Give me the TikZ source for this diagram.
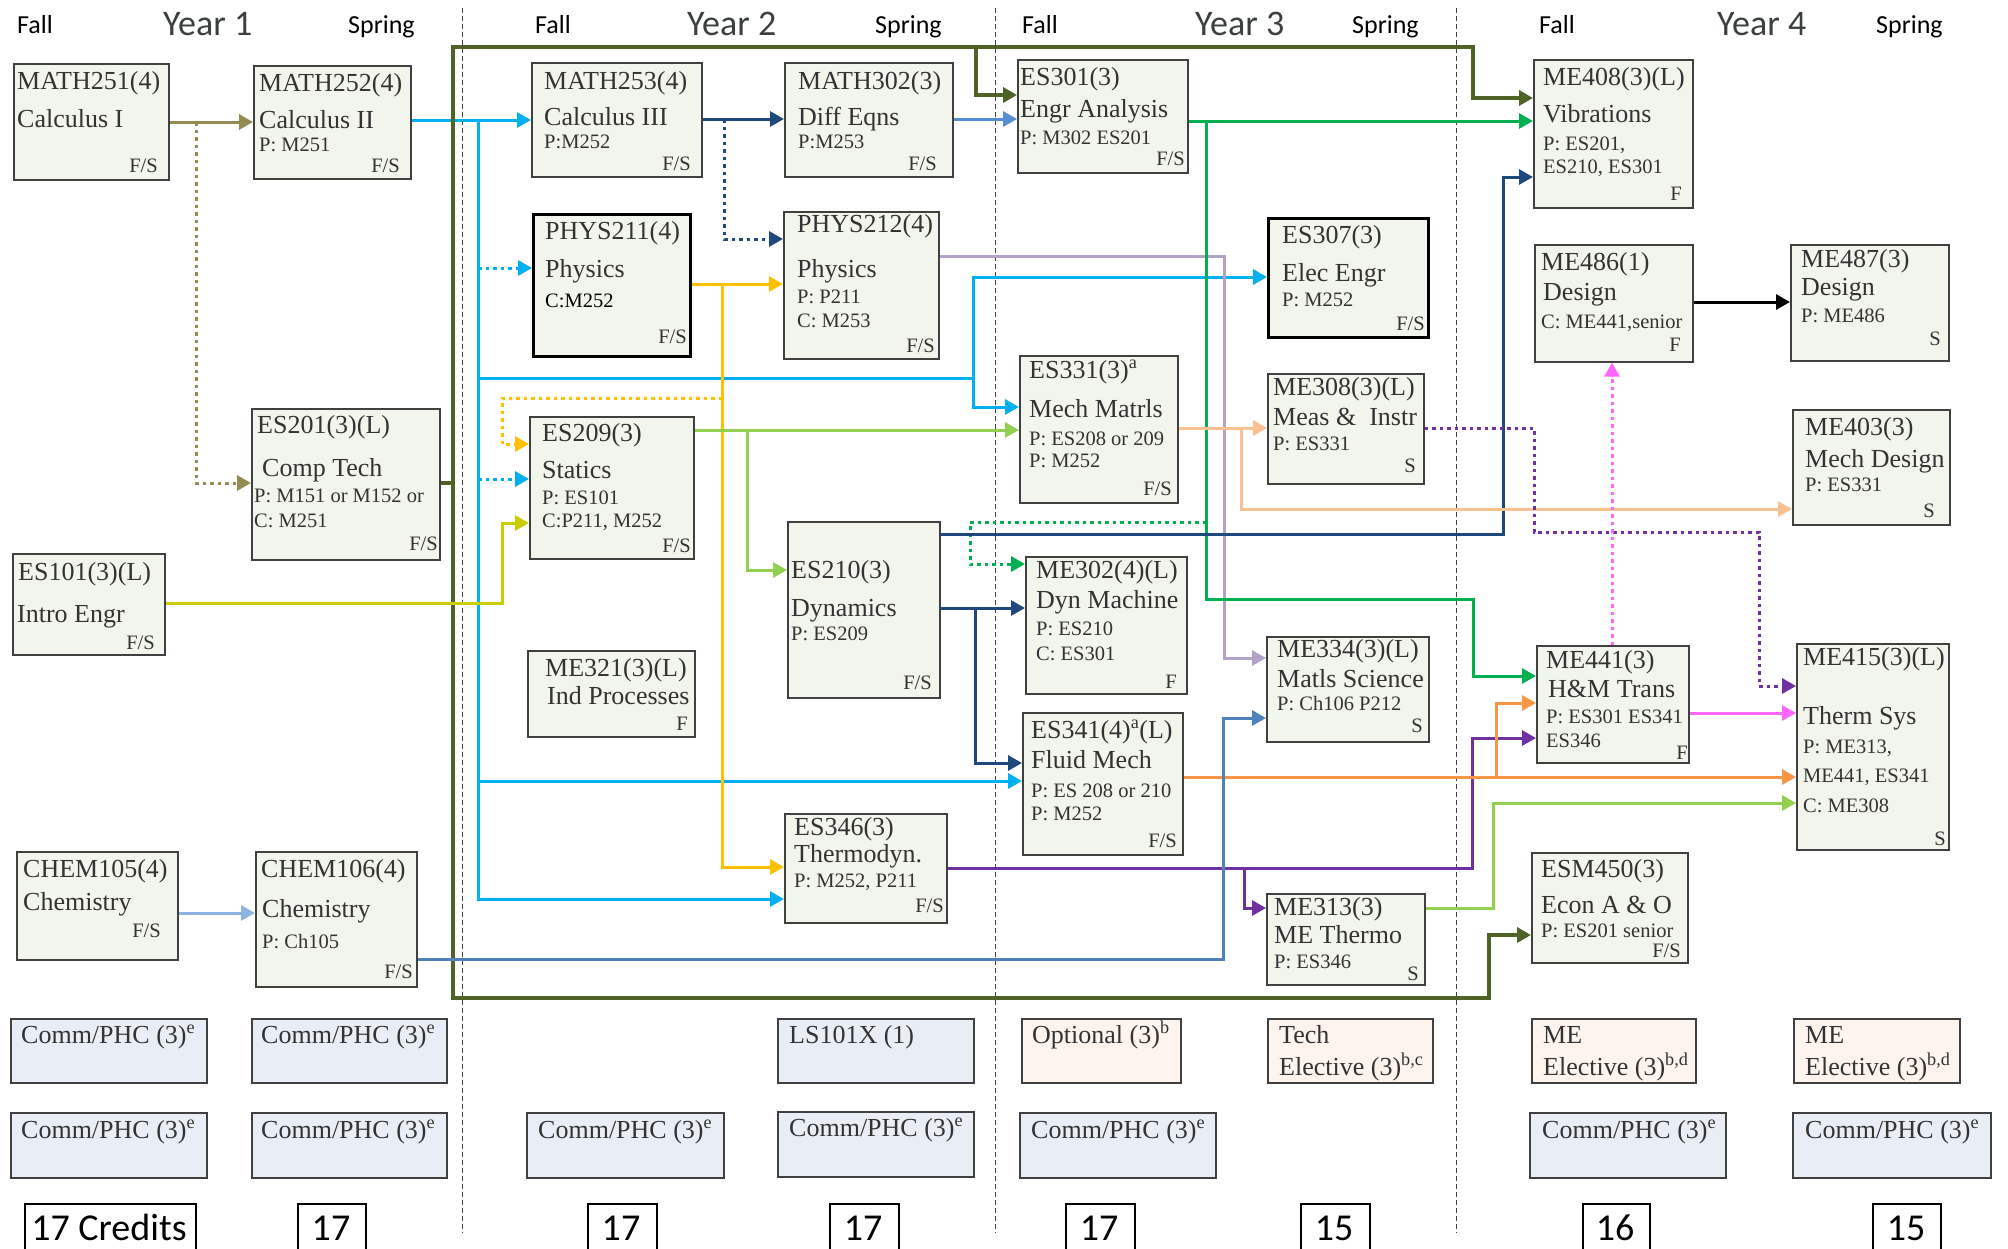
\documentclass[tikz,border=0pt]{standalone}
\usepackage{fontspec}
\setmainfont{Liberation Serif}
\newfontfamily\hdrfont{Carlito}
\usetikzlibrary{arrows.meta}
\definecolor{boxfill}{HTML}{F2F5EC}
\definecolor{boxline}{HTML}{404040}
\definecolor{bluefill}{HTML}{E9EEF6}
\definecolor{pinkfill}{HTML}{FDF4EE}
\definecolor{txtc}{HTML}{333333}
\definecolor{yearc}{HTML}{3A4040}
\definecolor{khaki}{HTML}{948A54}
\definecolor{cyanc}{HTML}{00B0F0}
\definecolor{dblue}{HTML}{1F497D}
\definecolor{mblue}{HTML}{558ED5}
\definecolor{goldc}{HTML}{FFC000}
\definecolor{lav}{HTML}{B3A2C7}
\definecolor{olv}{HTML}{4F6228}
\definecolor{grn}{HTML}{00B050}
\definecolor{lgrn}{HTML}{92D050}
\definecolor{pch}{HTML}{FAC090}
\definecolor{purp}{HTML}{7030A0}
\definecolor{orng}{HTML}{F79646}
\definecolor{stl}{HTML}{4F81BD}
\definecolor{mag}{HTML}{FF66FF}
\definecolor{ylw}{HTML}{CCCC00}
\definecolor{lblu}{HTML}{8DB4E2}
\newcommand\fbig{\fontsize{26}{30}\selectfont}
\newcommand\fsml{\fontsize{20.5}{24}\selectfont}
\tikzset{
  box/.style={draw=boxline, fill=boxfill, line width=1.6pt, inner sep=0, anchor=north west},
  thickbox/.style={draw=black, line width=2.8pt},
  bbox/.style={box, fill=bluefill},
  pbox/.style={box, fill=pinkfill},
  cbox/.style={box, fill=white, draw=black, line width=1.6pt},
  tb/.style={inner sep=0, text=txtc, font=\fbig},
  ts/.style={inner sep=0, text=txtc, font=\fsml},
  hdr/.style={inner sep=0, text=black, font=\hdrfont\fontsize{26}{30}\selectfont, anchor=base west},
  yr/.style={inner sep=0, text=yearc, font=\hdrfont\fontsize{36}{40}\selectfont, anchor=base west},
  cred/.style={inner sep=0, text=black, font=\hdrfont\fontsize{38}{42}\selectfont, anchor=base},
  arr/.style={line width=3pt, -{Triangle[length=14pt,width=15pt]}},
  ln/.style={line width=3pt},
  dot/.style={dash pattern=on 3.5pt off 4pt},
  olvs/.style={olv, line width=3.6pt},
  sep/.style={draw=black!75, line width=1pt, dash pattern=on 5pt off 3pt}
}
% box: [style]{name}{x1}{y1}{x2}{y2}
\newcommand\bx[6][box]{\pgfmathsetmacro\bw{#5-#3}\pgfmathsetmacro\bh{#6-#4}%
  \node[box,#1,minimum width=\bw pt,minimum height=\bh pt] (#2) at (#3,#4) {};}
% text line left: [style]{name}{x}{y}{text}
\newcommand\tL[5][tb]{\node[#1,anchor=base west] (#2) at (#3,#4) {#5};}
\newcommand\tR[5][ts]{\node[#1,anchor=base east] (#2) at (#3,#4) {#5};}
\begin{document}
\begin{tikzpicture}[x=1pt,y=-1pt]
\useasboundingbox (0,0) rectangle (2008,1248);
% separators
\draw[sep] (462,8) -- (462,1233);
\draw[sep] (995,8) -- (995,1233);
\draw[sep] (1456,8) -- (1456,1233);
% headers
\node[hdr] (f1) at (17,33) {Fall};
\node[yr] (y1) at (163,35) {Year 1};
\node[hdr] (s1) at (348,33) {Spring};
\node[hdr] (f2) at (535,33) {Fall};
\node[yr] (y2) at (687,35) {Year 2};
\node[hdr] (s2) at (875,33) {Spring};
\node[hdr] (f3) at (1022,33) {Fall};
\node[yr] (y3) at (1195,35) {Year 3};
\node[hdr] (s3) at (1352,33) {Spring};
\node[hdr] (f4) at (1539,33) {Fall};
\node[yr] (y4) at (1717,35) {Year 4};
\node[hdr] (s4) at (1876,33) {Spring};

% ---------- boxes (placed first as coordinates, drawn later on top) ----------
\begin{scope}[on background layer/.style={}]
\end{scope}

% connectors drawn before boxes so boxes sit on top
% invisible placeholder boxes for names
\begin{scope}[box/.append style={draw=none, fill=none}]
\bx{m251}{13}{63}{168}{179}
\bx{m252}{253}{65}{410}{178}
\bx{es201}{251}{408}{439}{559}
\bx{es101}{12}{553}{164}{654}
\bx{ch105}{16}{851}{177}{959}
\bx{ch106}{255}{851}{416}{986}
\bx{m253}{531}{62}{701}{176}
\bx{m302}{784}{62}{952}{176}
\bx{p211}{532}{213}{689}{355}
\bx{p212}{783}{211}{938}{358}
\bx{es209}{529}{416}{693}{558}
\bx{me321}{527}{650}{694}{736}
\bx{es210}{787}{521}{939}{697}
\bx{es346}{784}{813}{946}{922}
\bx{es301}{1017}{59}{1187}{172}
\bx{es307}{1267}{217}{1427}{336}
\bx{es331}{1019}{355}{1177}{502}
\bx{me308}{1267}{373}{1423}{483}
\bx{me302}{1025}{556}{1186}{693}
\bx{es341}{1022}{712}{1182}{854}
\bx{me334}{1266}{636}{1428}{741}
\bx{me313}{1266}{893}{1424}{984}
\bx{me408}{1533}{59}{1692}{207}
\bx{me486}{1534}{244}{1692}{361}
\bx{me487}{1790}{244}{1948}{360}
\bx{me403}{1792}{409}{1949}{524}
\bx{me441}{1536}{645}{1688}{762}
\bx{me415}{1796}{643}{1948}{849}
\bx{esm450}{1531}{852}{1687}{962}
\end{scope}

% ---------- connectors ----------
\coordinate (jk) at (196,122);
\draw[arr,khaki] (m251.east|-0,122) -- (m252.west|-0,122);
\draw[arr,khaki,dot] (jk) |- (es201.west|-0,483);

\coordinate (jc) at (478,120);
\coordinate (jc2) at (973,378);
\draw[arr,cyanc] (m252.east|-0,120) -- (m253.west|-0,120);
\draw[arr,cyanc] (jc) |- (es346.west|-0,899);
\draw[arr,cyanc,dot] (jc|-0,268) -- (p211.west|-0,268);
\draw[arr,cyanc,dot] (jc|-0,479) -- (es209.west|-0,479);
\draw[arr,cyanc] (jc|-0,781) -- (es341.west|-0,781);
\draw[arr,cyanc] (jc|-0,378) -| (973,277) -- (es307.west|-0,277);
\draw[arr,cyanc] (jc2) |- (es331.west|-0,407);

\coordinate (jd) at (724,119);
\draw[arr,dblue] (m253.east|-0,119) -- (m302.west|-0,119);
\draw[arr,dblue,dot] (jd) |- (p212.west|-0,239);
\draw[arr,mblue] (m302.east|-0,119) -- (es301.west|-0,119);

\coordinate (jg) at (722,284);
\coordinate (jg2) at (722,398);
\draw[arr,goldc] (p211.east|-0,284) -- (p212.west|-0,284);
\draw[arr,goldc] (jg) |- (es346.west|-0,867);
\draw[arr,goldc,dot] (jg2) -| (502,444) -- (es209.west|-0,444);

\draw[arr,lav] (p212.east|-0,256) -| (1224,658) -- (me334.west|-0,658);

\coordinate (jo) at (453,483);
\coordinate (jo2) at (976,47);
\draw[olvs] (es201.east|-0,483) -- (jo);
\draw[arr,olvs] (jo) -- (453,47) -| (976,95) -- (es301.west|-0,95);
\draw[arr,olvs] (jo2) -| (1473,98) -- (me408.west|-0,98);
\draw[arr,olvs] (jo) |- (1489,998) -- (1489,935) -- (esm450.west|-0,935);

\coordinate (jgr) at (1206,121);
\coordinate (jgr2) at (1206,522);
\draw[arr,grn] (es301.east|-0,121) -- (me408.west|-0,121);
\draw[arr,grn] (jgr) |- (1473,599) |- (me441.west|-0,676);
\draw[arr,grn,dot] (jgr2) -| (970,564) -- (me302.west|-0,564);

\coordinate (jl) at (747,430);
\draw[arr,lgrn] (es209.east|-0,430) -- (es331.west|-0,430);
\draw[arr,lgrn] (jl) |- (es210.west|-0,570);
\draw[arr,lgrn] (me313.east|-0,908) -| (1493,803) -- (me415.west|-0,803);

\draw[arr,ylw] (es101.east|-0,603) -| (502,523) -- (es209.west|-0,523);

\coordinate (jb) at (975,608);
\draw[arr,dblue] (es210.east|-0,534) -| (1503,177) -- (me408.west|-0,177);
\draw[arr,dblue] (es210.east|-0,608) -- (me302.west|-0,608);
\draw[arr,dblue] (jb) |- (es341.west|-0,763);

\coordinate (jp) at (1241,428);
\draw[arr,pch] (es331.east|-0,428) -- (me308.west|-0,428);
\draw[arr,pch] (jp) |- (me403.west|-0,509);

\draw[arr,purp,dot] (me308.east|-0,428) -| (1534,532) -| (1759,686) -- (me415.west|-0,686);

\coordinate (ju) at (1244,868);
\draw[arr,purp] (es346.east|-0,868) -| (1472,738) -- (me441.west|-0,738);
\draw[arr,purp] (ju) |- (me313.west|-0,908);

\coordinate (jor) at (1496,777);
\draw[arr,orng] (es341.east|-0,777) -- (me415.west|-0,777);
\draw[arr,orng] (jor) |- (me441.west|-0,703);

\draw[arr,stl] (ch106.east|-0,959) -| (1223,718) -- (me334.west|-0,718);

\draw[arr,mag] (me441.east|-0,713) -- (me415.west|-0,713);
\draw[arr,mag,dot] (me441.north-|1612,0) -- (me486.south-|1612,0);

\draw[arr,lblu] (ch105.east|-0,913) -- (ch106.west|-0,913);
\draw[arr,black] (me486.east|-0,302) -- (me487.west|-0,302);

% ---------- visible boxes ----------
\bx{bm251}{13}{63}{168}{179}
\bx{bm252}{253}{65}{410}{178}
\bx{bes201}{251}{408}{439}{559}
\bx{bes101}{12}{553}{164}{654}
\bx{bch105}{16}{851}{177}{959}
\bx{bch106}{255}{851}{416}{986}
\bx{bm253}{531}{62}{701}{176}
\bx{bm302}{784}{62}{952}{176}
\bx[thickbox]{bp211}{532}{213}{689}{355}
\bx{bp212}{783}{211}{938}{358}
\bx{bes209}{529}{416}{693}{558}
\bx{bme321}{527}{650}{694}{736}
\bx{bes210}{787}{521}{939}{697}
\bx{bes346}{784}{813}{946}{922}
\bx{bes301}{1017}{59}{1187}{172}
\bx[thickbox]{bes307}{1267}{217}{1427}{336}
\bx{bes331}{1019}{355}{1177}{502}
\bx{bme308}{1267}{373}{1423}{483}
\bx{bme302}{1025}{556}{1186}{693}
\bx{bes341}{1022}{712}{1182}{854}
\bx{bme334}{1266}{636}{1428}{741}
\bx{bme313}{1266}{893}{1424}{984}
\bx{bme408}{1533}{59}{1692}{207}
\bx{bme486}{1534}{244}{1692}{361}
\bx{bme487}{1790}{244}{1948}{360}
\bx{bme403}{1792}{409}{1949}{524}
\bx{bme441}{1536}{645}{1688}{762}
\bx{bme415}{1796}{643}{1948}{849}
\bx{besm450}{1531}{852}{1687}{962}

% ---------- texts ----------
\tL{t1a}{17}{89}{MATH251(4)} \tL{t1b}{17}{127}{Calculus I} \tR{t1c}{158}{172}{F/S}
\tL{t2a}{259}{91}{MATH252(4)} \tL{t2b}{259}{128}{Calculus II} \tL[ts]{t2c}{259}{151}{P: M251} \tR{t2d}{400}{172}{F/S}
\tL{t3a}{257}{433}{ES201(3)(L)} \tL{t3b}{262}{476}{Comp Tech} \tL[ts]{t3c}{254}{502}{P: M151 or M152 or} \tL[ts]{t3d}{254}{527}{C: M251} \tR{t3e}{438}{550}{F/S}
\tL{t4a}{18}{580}{ES101(3)(L)} \tL{t4b}{17}{622}{Intro Engr} \tR{t4c}{155}{649}{F/S}
\tL{t5a}{23}{877}{CHEM105(4)} \tL{t5b}{23}{910}{Chemistry} \tR{t5c}{161}{937}{F/S}
\tL{t6a}{261}{877}{CHEM106(4)} \tL{t6b}{262}{917}{Chemistry} \tL[ts]{t6c}{262}{948}{P: Ch105} \tR{t6d}{413}{978}{F/S}
\tL{t7a}{544}{89}{MATH253(4)} \tL{t7b}{544}{125}{Calculus III} \tL[ts]{t7c}{544}{148}{P:M252} \tR{t7d}{691}{170}{F/S}
\tL{t8a}{798}{89}{MATH302(3)} \tL{t8b}{798}{125}{Diff Eqns} \tL[ts]{t8c}{798}{148}{P:M253} \tR{t8d}{937}{170}{F/S}
\tL{t9a}{545}{239}{PHYS211(4)} \tL{t9b}{545}{277}{Physics} \tL[ts,text=black]{t9c}{545}{307}{C:M252} \tR{t9d}{687}{343}{F/S}
\tL{t10a}{797}{232}{PHYS212(4)} \tL{t10b}{797}{277}{Physics} \tL[ts]{t10c}{797}{303}{P: P211} \tL[ts]{t10d}{797}{327}{C: M253} \tR{t10e}{935}{352}{F/S}
\tL{t11a}{542}{441}{ES209(3)} \tL{t11b}{542}{478}{Statics} \tL[ts]{t11c}{542}{504}{P: ES101} \tL[ts]{t11d}{542}{527}{C:P211, M252} \tR{t11e}{691}{552}{F/S}
\tL{t12a}{545}{676}{ME321(3)(L)} \tL{t12b}{547}{704}{Ind Processes} \tR{t12c}{688}{730}{F}
\tL{t13a}{791}{578}{ES210(3)} \tL{t13b}{791}{616}{Dynamics} \tL[ts]{t13c}{791}{640}{P: ES209} \tR{t13d}{932}{689}{F/S}
\tL{t14a}{794}{835}{ES346(3)} \tL{t14b}{794}{862}{Thermodyn.} \tL[ts]{t14c}{794}{887}{P: M252, P211} \tR{t14d}{944}{912}{F/S}
\tL{t15a}{1020}{85}{ES301(3)} \tL{t15b}{1020}{117}{Engr Analysis} \tL[ts]{t15c}{1020}{144}{P: M302 ES201} \tR{t15d}{1185}{165}{F/S}
\tL{t16a}{1282}{243}{ES307(3)} \tL{t16b}{1282}{281}{Elec Engr} \tL[ts]{t16c}{1282}{306}{P: M252} \tR{t16d}{1425}{330}{F/S}
\tL{t17a}{1029}{378}{ES331(3)\textsuperscript{a}} \tL{t17b}{1029}{417}{Mech Matrls} \tL[ts]{t17c}{1029}{445}{P: ES208 or 209} \tL[ts]{t17d}{1029}{467}{P: M252} \tR{t17e}{1172}{495}{F/S}
\tL{t18a}{1273}{395}{ME308(3)(L)} \tL{t18b}{1273}{425}{Meas \&\ \ Instr} \tL[ts]{t18c}{1273}{450}{P: ES331} \tR{t18d}{1416}{472}{S}
\tL{t19a}{1036}{578}{ME302(4)(L)} \tL{t19b}{1036}{608}{Dyn Machine} \tL[ts]{t19c}{1036}{635}{P: ES210} \tL[ts]{t19d}{1036}{660}{C: ES301} \tR{t19e}{1177}{688}{F}
\tL{t20a}{1031}{738}{ES341(4)\textsuperscript{a}(L)} \tL{t20b}{1031}{768}{Fluid Mech} \tL[ts]{t20c}{1031}{797}{P: ES 208 or 210} \tL[ts]{t20d}{1031}{820}{P: M252} \tR{t20e}{1177}{847}{F/S}
\tL{t21a}{1277}{657}{ME334(3)(L)} \tL{t21b}{1277}{687}{Matls Science} \tL[ts]{t21c}{1277}{710}{P: Ch106 P212} \tR{t21d}{1423}{732}{S}
\tL{t22a}{1274}{915}{ME313(3)} \tL{t22b}{1274}{943}{ME Thermo} \tL[ts]{t22c}{1274}{968}{P: ES346} \tR{t22d}{1419}{980}{S}
\tL{t23a}{1543}{85}{ME408(3)(L)} \tL{t23b}{1543}{122}{Vibrations} \tL[ts]{t23c}{1543}{150}{P: ES201,} \tL[ts]{t23d}{1543}{173}{ES210, ES301} \tR{t23e}{1682}{200}{F}
\tL{t24a}{1541}{270}{ME486(1)} \tL{t24b}{1543}{300}{Design} \tL[ts]{t24c}{1541}{328}{C: ME441,senior} \tR{t24d}{1681}{351}{F}
\tL{t25a}{1801}{267}{ME487(3)} \tL{t25b}{1801}{295}{Design} \tL[ts]{t25c}{1801}{322}{P: ME486} \tR{t25d}{1941}{345}{S}
\tL{t26a}{1805}{435}{ME403(3)} \tL{t26b}{1805}{467}{Mech Design} \tL[ts]{t26c}{1805}{491}{P: ES331} \tR{t26d}{1935}{517}{S}
\tL{t27a}{1546}{668}{ME441(3)} \tL{t27b}{1548}{697}{H\&M Trans} \tL[ts]{t27c}{1546}{723}{P: ES301 ES341} \tL[ts]{t27d}{1546}{747}{ES346} \tR{t27e}{1688}{759}{F}
\tL{t28a}{1803}{665}{ME415(3)(L)} \tL{t28b}{1803}{724}{Therm Sys} \tL[ts]{t28c}{1803}{753}{P: ME313,} \tL[ts]{t28d}{1803}{782}{ME441, ES341} \tL[ts]{t28e}{1803}{812}{C: ME308} \tR{t28f}{1946}{845}{S}
\tL{t29a}{1541}{877}{ESM450(3)} \tL{t29b}{1541}{913}{Econ A \& O} \tL[ts]{t29c}{1541}{937}{P: ES201 senior} \tR{t29d}{1681}{957}{F/S}

% ---------- bottom rows ----------
\bx[bbox]{r1a}{10}{1018}{206}{1082}   \tL{r1at}{21}{1043}{Comm/PHC (3)\textsuperscript{e}}
\bx[bbox]{r1b}{251}{1018}{446}{1082}  \tL{r1bt}{261}{1043}{Comm/PHC (3)\textsuperscript{e}}
\bx[bbox]{r1c}{777}{1018}{973}{1082}  \tL{r1ct}{789}{1043}{LS101X (1)}
\bx[pbox]{r1d}{1021}{1018}{1180}{1082} \tL{r1dt}{1032}{1043}{Optional (3)\textsuperscript{b}}
\bx[pbox]{r1e}{1267}{1018}{1432}{1082} \tL{r1et}{1279}{1043}{Tech} \tL{r1eu}{1279}{1075}{Elective (3)\textsuperscript{b,c}}
\bx[pbox]{r1f}{1531}{1018}{1695}{1082} \tL{r1ft}{1543}{1043}{ME} \tL{r1fu}{1543}{1075}{Elective (3)\textsuperscript{b,d}}
\bx[pbox]{r1g}{1793}{1018}{1959}{1082} \tL{r1gt}{1805}{1043}{ME} \tL{r1gu}{1805}{1075}{Elective (3)\textsuperscript{b,d}}

\bx[bbox]{r2a}{10}{1112}{206}{1177}   \tL{r2at}{21}{1138}{Comm/PHC (3)\textsuperscript{e}}
\bx[bbox]{r2b}{251}{1112}{446}{1177}  \tL{r2bt}{261}{1138}{Comm/PHC (3)\textsuperscript{e}}
\bx[bbox]{r2c}{526}{1112}{723}{1177}  \tL{r2ct}{538}{1138}{Comm/PHC (3)\textsuperscript{e}}
\bx[bbox]{r2d}{777}{1111}{973}{1176}  \tL{r2dt}{789}{1136}{Comm/PHC (3)\textsuperscript{e}}
\bx[bbox]{r2e}{1019}{1112}{1215}{1177} \tL{r2et}{1031}{1138}{Comm/PHC (3)\textsuperscript{e}}
\bx[bbox]{r2f}{1529}{1112}{1725}{1177} \tL{r2ft}{1542}{1138}{Comm/PHC (3)\textsuperscript{e}}
\bx[bbox]{r2g}{1792}{1112}{1990}{1177} \tL{r2gt}{1805}{1138}{Comm/PHC (3)\textsuperscript{e}}

% ---------- credits ----------
\bx[cbox]{c1}{24}{1203}{195}{1270}  \node[cred] (c1t) at (109,1240) {17 Credits};
\bx[cbox]{c2}{297}{1203}{365}{1270} \node[cred] (c2t) at (331,1240) {17};
\bx[cbox]{c3}{587}{1203}{656}{1270} \node[cred] (c3t) at (621,1240) {17};
\bx[cbox]{c4}{829}{1203}{898}{1270} \node[cred] (c4t) at (863,1240) {17};
\bx[cbox]{c5}{1065}{1203}{1134}{1270} \node[cred] (c5t) at (1099,1240) {17};
\bx[cbox]{c6}{1300}{1203}{1369}{1270} \node[cred] (c6t) at (1334,1240) {15};
\bx[cbox]{c7}{1582}{1203}{1649}{1270} \node[cred] (c7t) at (1615,1240) {16};
\bx[cbox]{c8}{1872}{1203}{1940}{1270} \node[cred] (c8t) at (1906,1240) {15};
\end{tikzpicture}
\end{document}
